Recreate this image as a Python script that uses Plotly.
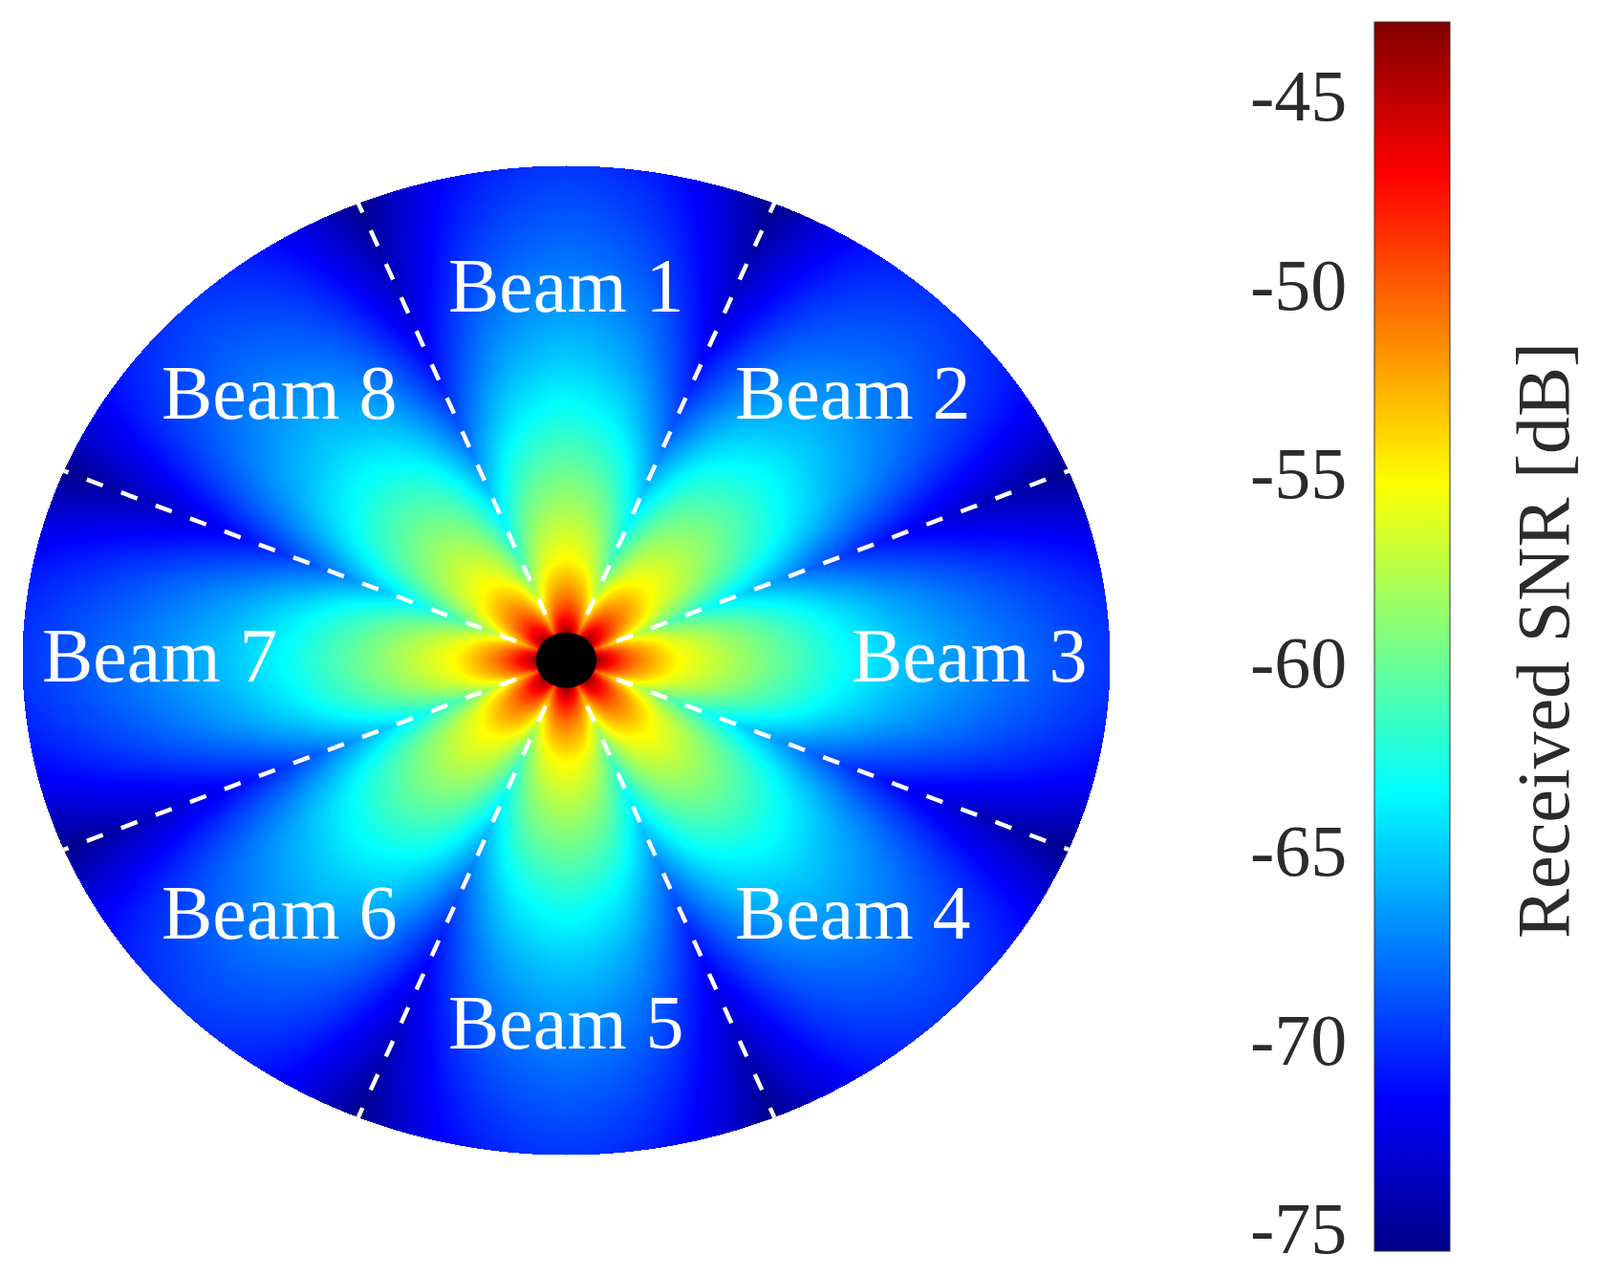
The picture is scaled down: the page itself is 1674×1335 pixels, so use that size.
import numpy as np
import plotly.graph_objects as go

# SNR along a beam axis, by normalised radius
radius = [0.00, 0.05, 0.07, 0.10, 0.125, 0.15, 0.20, 0.25, 0.30, 0.40, 0.50, 0.60, 0.70, 0.80, 0.90, 1.00]
axis_snr = [-43.0, -43.0, -45.5, -48.5, -50.5, -52.0, -54.8, -56.3, -57.7, -60.3, -62.8, -64.8, -66.3, -67.6, -68.7, -69.7]
# Loss against the angle off the beam axis
off_axis_deg = [0.0, 2.5, 5.0, 7.5, 10.0, 12.5, 15.0, 17.5, 20.0, 22.5]
off_axis_db = [0.0, -0.1, -0.3, -0.6, -1.0, -1.6, -2.4, -3.4, -4.5, -5.7]

beam_names = ["Beam 1", "Beam 2", "Beam 3", "Beam 4", "Beam 5", "Beam 6", "Beam 7", "Beam 8"]
beam_x = [0.0, 0.527, 0.741, 0.527, 0.0, -0.527, -0.747, -0.527]
beam_y = [0.757, 0.54, 0.01, -0.511, -0.732, -0.511, 0.01, 0.54]
edge_deg = [22.5, 67.5, 112.5, 157.5, 202.5, 247.5, 292.5, 337.5]
edge_start = 0.10
hole_radius = 0.056

snr_min, snr_max = -75.48, -42.92
tick_vals = [-45, -50, -55, -60, -65, -70, -75]
tick_text = ["-45", "-50", "-55", "-60", "-65", "-70", "-75"]
jet = [[0, "rgb(0,0,135)"], [0.125, "rgb(0,0,255)"], [0.375, "rgb(0,255,255)"],
       [0.625, "rgb(255,255,0)"], [0.875, "rgb(255,0,0)"], [1, "rgb(128,0,0)"]]

W, H = 1674, 1335
L, R, T, B = 23.5, 1161.5, 173.0, 1208.5
BAR_L, BAR_R, BAR_T, BAR_B = 1438, 1517, 23, 1309
TXT = "Liberation Serif"
INK = "#2b2b2b"

xs = np.linspace(-1, 1, int(R - L) + 1, dtype=np.float32)
ys = np.linspace(-1, 1, int(B - T) + 1, dtype=np.float32)
gx, gy = np.meshgrid(xs, ys)
rr = np.hypot(gx, gy)
ang = np.degrees(np.arctan2(gx, gy)) % 45.0
off = np.minimum(ang, 45.0 - ang)
z = np.interp(rr, radius, axis_snr) + np.interp(off, off_axis_deg, off_axis_db)
z = z.astype(np.float32)
z[rr > 1] = np.nan

fig = go.Figure()
fig.add_trace(go.Heatmap(
    x=xs, y=ys, z=z, zmin=snr_min, zmax=snr_max, colorscale=jet, hoverinfo="skip",
    colorbar=dict(
        x=BAR_L / W, xanchor="left", y=1 - BAR_B / H, yanchor="bottom",
        len=(BAR_B - BAR_T) / H, lenmode="fraction", thickness=BAR_R - BAR_L, thicknessmode="pixels",
        xpad=0, ypad=0, outlinecolor="#333333", outlinewidth=1,
        tickmode="array", tickvals=tick_vals, ticks="", showticklabels=False,
    ),
))
for deg in edge_deg:
    a = np.radians(deg)
    fig.add_trace(go.Scatter(
        x=[edge_start * np.sin(a), np.sin(a)], y=[edge_start * np.cos(a), np.cos(a)],
        mode="lines", line=dict(color="white", width=4.5, dash="18px,20.5px"),
        hoverinfo="skip", showlegend=False,
    ))
fig.add_shape(type="circle", x0=-hole_radius, x1=hole_radius, y0=-hole_radius, y1=hole_radius,
              fillcolor="black", line=dict(width=0), layer="above")
for name, bx, by in zip(beam_names, beam_x, beam_y):
    fig.add_annotation(x=bx, y=by, text=name, showarrow=False,
                       font=dict(family=TXT, size=80, color="white"))

# Tick labels sit left of the colour bar, placed from the tick values on the bar's scale
for val, label in zip(tick_vals, tick_text):
    frac = (val - snr_min) / (snr_max - snr_min)
    py = (1 - BAR_B / H) + frac * (BAR_B - BAR_T) / H
    fig.add_annotation(xref="paper", yref="paper", x=1411 / W, y=py, yshift=5, text=label,
                       xanchor="right", yanchor="middle", showarrow=False,
                       font=dict(family=TXT, size=76, color=INK))
    fig.add_shape(type="line", xref="paper", yref="paper", x0=BAR_L / W, x1=(BAR_L + 13) / W,
                  y0=py, y1=py, line=dict(color="rgba(40,0,0,0.45)", width=1), layer="above")

fig.add_annotation(xref="paper", yref="paper", x=1614 / W, y=1 - 670 / H, text="Received SNR [dB]",
                   textangle=-90, xanchor="center", yanchor="middle", showarrow=False,
                   font=dict(family=TXT, size=78, color=INK))
fig.update_layout(
    width=W, height=H, margin=dict(l=0, r=0, t=0, b=0), plot_bgcolor="white", paper_bgcolor="white",
    showlegend=False,
    xaxis=dict(domain=[L / W, R / W], range=[-1, 1], visible=False),
    yaxis=dict(domain=[1 - B / H, 1 - T / H], range=[-1, 1], visible=False),
)
fig.write_html("out.html", config={"displayModeBar": False},
               post_script="document.body.style.margin='0';document.body.style.overflow='hidden';")
